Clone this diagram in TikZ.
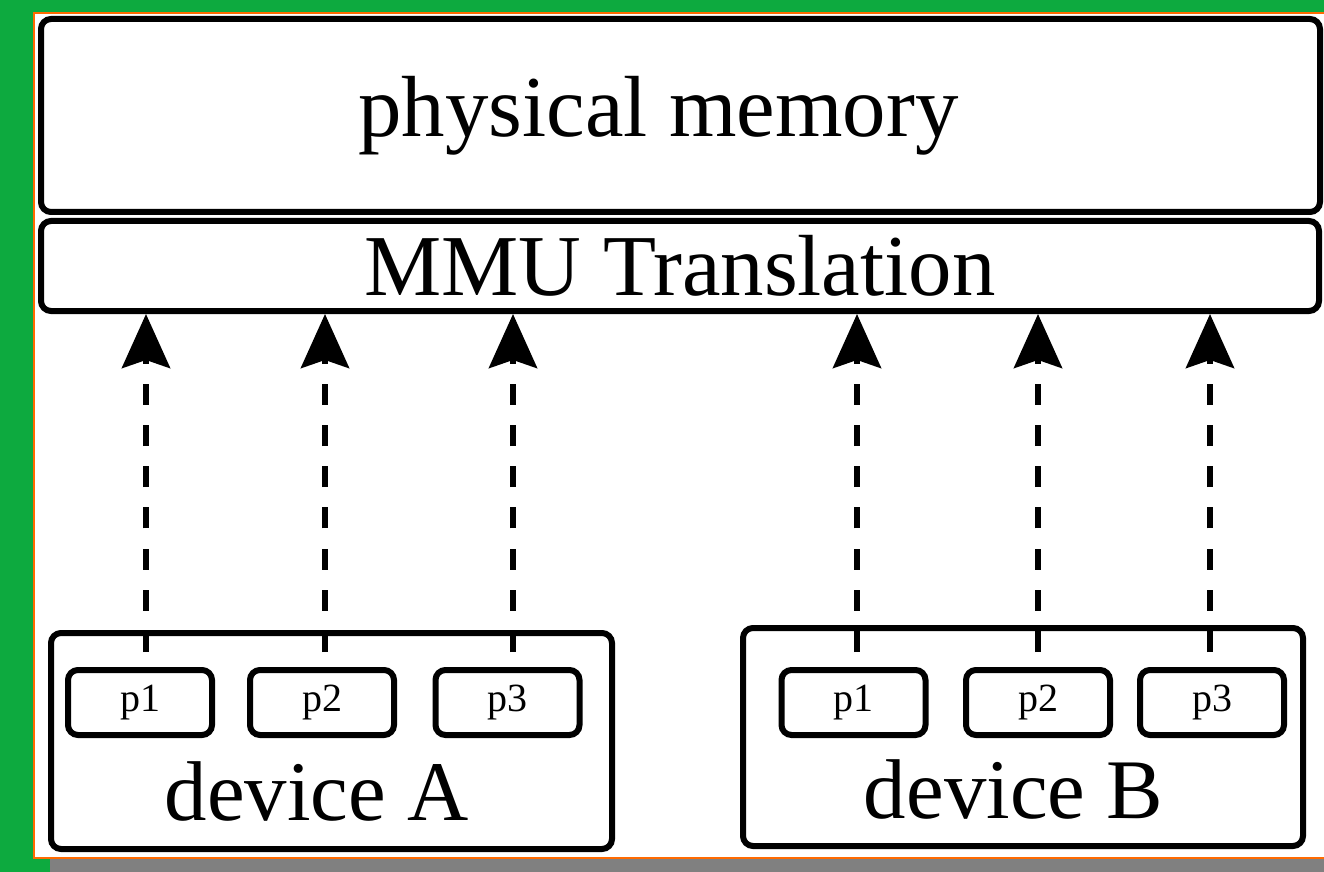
\documentclass[tikz,border=0pt]{standalone}
\usepackage{fontspec}
\setmainfont{Liberation Serif}
\usetikzlibrary{arrows.meta}
\definecolor{bggreen}{RGB}{13,170,63}
\definecolor{borderorange}{RGB}{255,106,0}
\definecolor{bandgray}{RGB}{128,128,128}
\begin{document}
\begin{tikzpicture}[x=0.5pt,y=-0.5pt,
  box/.style={draw=black,line width=3pt,rounded corners=5pt,inner sep=0pt,fill=white},
  pbox/.style={box,minimum width=72pt,minimum height=32.5pt,font=\fontsize{20}{24}\selectfont},
  bigtext/.style={font=\fontsize{43.4}{52}\selectfont,inner sep=0pt},
  devtext/.style={font=\fontsize{42.4}{50}\selectfont,inner sep=0pt},
  arr/.style={line width=3pt,dash pattern=on 10.5pt off 10.1pt,dash phase=13.1pt,
    -{Stealth[length=27pt,width=24pt,inset=4pt]}}]
\useasboundingbox (0,0) rectangle (1324,872);
% background
\fill[bggreen] (0,0) rectangle (1324,872);
\fill[white] (34,13) rectangle (1324,858);
\fill[bandgray] (50,858.5) rectangle (1324,872);
\draw[borderorange,line width=0.75pt] (1324,13) -- (34,13) -- (34,858) -- (1324,858);
% main boxes
\node[box,bigtext,minimum width=639.5pt,minimum height=96.5pt] (phys) at (680.5,115.5) {physical memory\hspace*{22pt}};
\node[box,bigtext,minimum width=639pt,minimum height=45pt] (mmu) at (680,266) {MMU Translation};
\node[box,minimum width=280.5pt,minimum height=108pt] (devA) at (331.5,741) {};
\node[box,minimum width=280pt,minimum height=109pt] (devB) at (1023,737) {};
\node[devtext,anchor=base] (labA) at (316.5,820) {device A};
\node[devtext,anchor=base] (labB) at (1013.5,818) {device B};
% page boxes
\node[pbox] (pa1) at (140,702.5) {p1};
\node[pbox] (pa2) at (322,702.5) {p2};
\node[pbox] (pa3) at (507.5,702.5) {p3};
\node[pbox] (pb1) at (853.5,702.5) {p1};
\node[pbox] (pb2) at (1038,702.5) {p2};
\node[pbox] (pb3) at (1212,702.5) {p3};
% arrow start points
\coordinate (sa1) at ([xshift=3pt]pa1.north);
\coordinate (sa2) at ([xshift=1.5pt]pa2.north);
\coordinate (sa3) at ([xshift=2.75pt]pa3.north);
\coordinate (sb1) at ([xshift=1.75pt]pb1.north);
\coordinate (sb2) at (pb2.north);
\coordinate (sb3) at ([xshift=-1pt]pb3.north);
% arrows
\draw[arr] (sa1) -- (sa1 |- mmu.south);
\draw[arr] (sa2) -- (sa2 |- mmu.south);
\draw[arr] (sa3) -- (sa3 |- mmu.south);
\draw[arr] (sb1) -- (sb1 |- mmu.south);
\draw[arr] (sb2) -- (sb2 |- mmu.south);
\draw[arr] (sb3) -- (sb3 |- mmu.south);
\end{tikzpicture}
\end{document}
